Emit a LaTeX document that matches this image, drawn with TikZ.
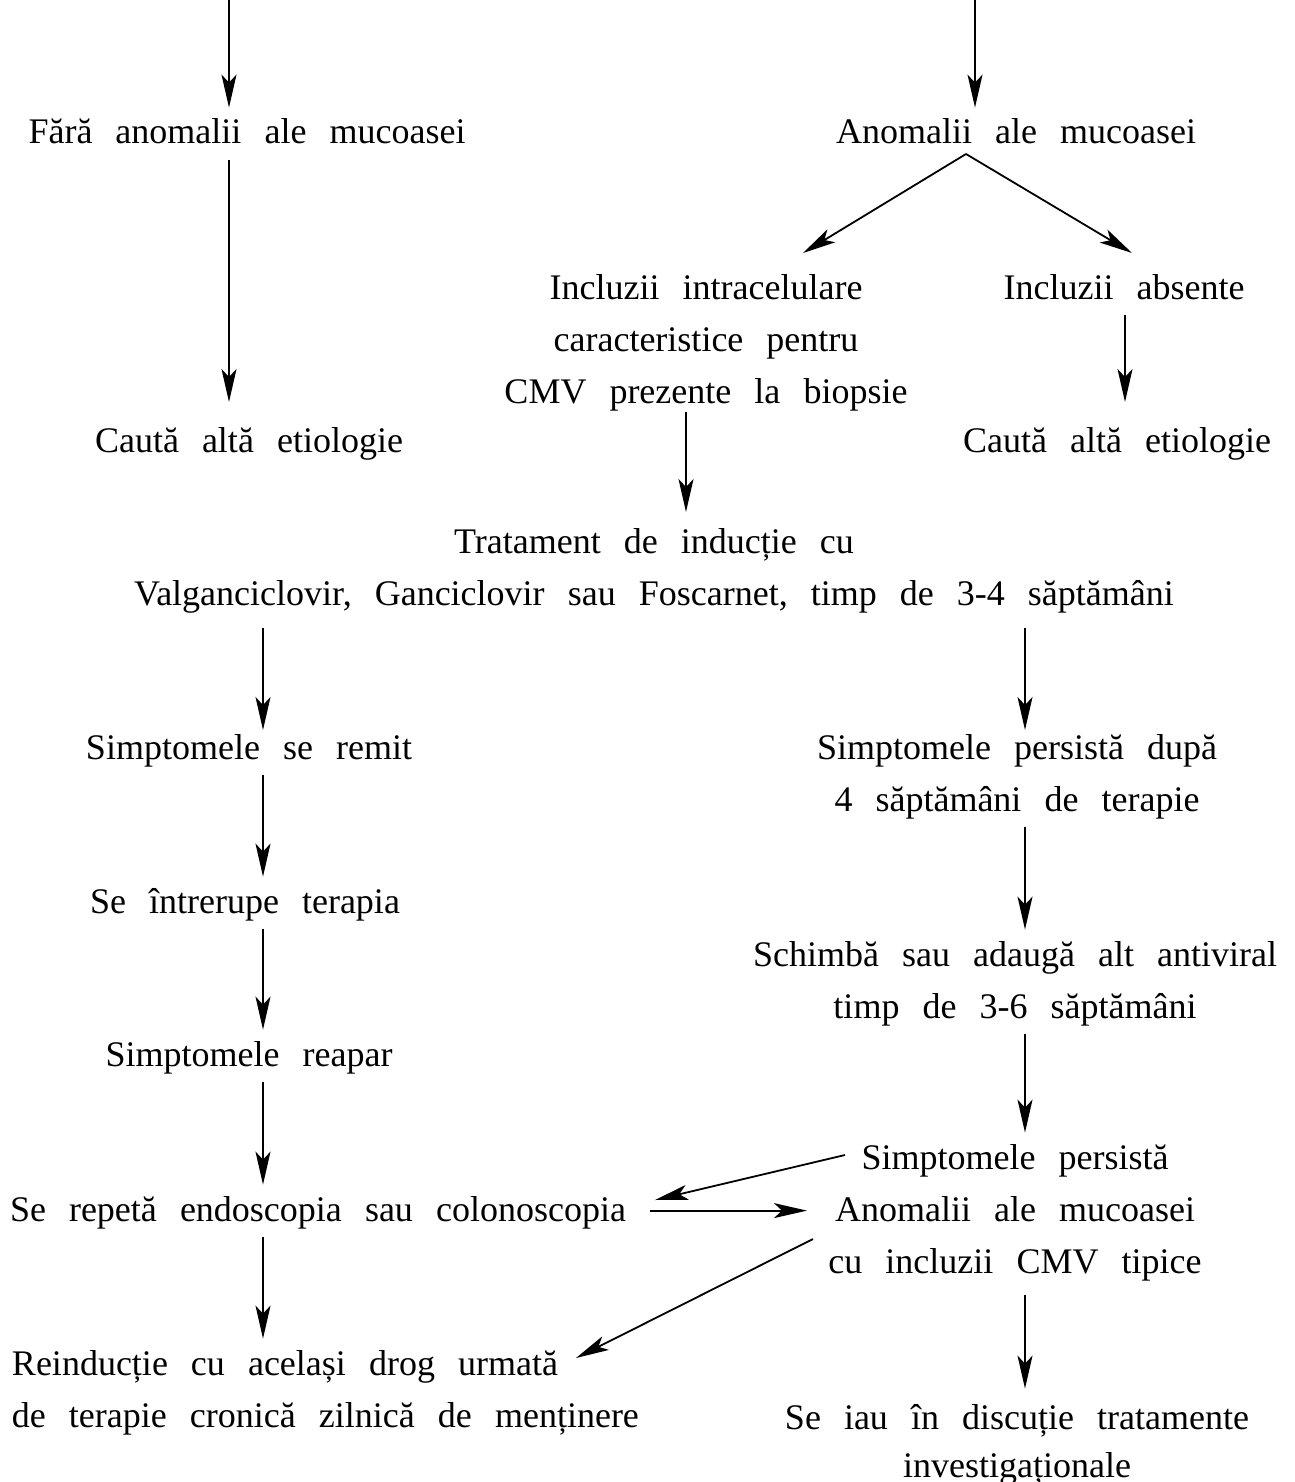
\documentclass[tikz,border=0pt]{standalone}
\usepackage{fontspec}
\setmainfont{Liberation Serif}
\usetikzlibrary{arrows.meta}
% text block: first baseline is the node's base, rows 52pt apart (strut driven)
\newcommand\blk[2]{\spaceskip=0.64em\relax\begin{tabular}[t]{@{}#1@{}}#2\end{tabular}}
\begin{document}
\begin{tikzpicture}[x=1pt,y=-1pt,
  txt/.style={inner sep=0pt, outer sep=0pt, anchor=base,
    font=\fontsize{36}{52}\selectfont},
  arr/.style={line width=1.8pt, -{Stealth[length=33pt,width=15pt,inset=8pt]}}]
\useasboundingbox (0,0) rectangle (1294,1482);

% columns used by the vertical connectors
\coordinate (cA) at (229,0);
\coordinate (cB) at (975,0);
\coordinate (cC) at (1125,0);
\coordinate (cD) at (686,0);
\coordinate (cL) at (263,0);
\coordinate (cR) at (1025,0);

% text blocks
\node[txt] (fara)   at (247,144)  {\blk{c}{Fără anomalii ale mucoasei}};
\node[txt] (anom)   at (1016,144) {\blk{c}{Anomalii ale mucoasei}};
\node[txt] (incl)   at (706,299)  {\blk{c}{Incluzii intracelulare\\caracteristice pentru\\CMV prezente la biopsie}};
\node[txt] (abs)    at (1124,299) {\blk{c}{Incluzii absente}};
\node[txt] (caut1)  at (249,452)  {\blk{c}{Caută altă etiologie}};
\node[txt] (caut2)  at (1117,452) {\blk{c}{Caută altă etiologie}};
\node[txt] (trat)   at (654,553)  {\blk{c}{Tratament de inducție cu\\Valganciclovir, Ganciclovir sau Foscarnet, timp de 3-4 săptămâni}};
\node[txt] (remit)  at (249,759)  {\blk{c}{Simptomele se remit}};
\node[txt] (pers4)  at (1017,759) {\blk{c}{Simptomele persistă după\\4 săptămâni de terapie}};
\node[txt] (intr)   at (245,913)  {\blk{c}{Se întrerupe terapia}};
\node[txt] (schimb) at (1015,966) {\blk{c}{Schimbă sau adaugă alt antiviral\\timp de 3-6 săptămâni}};
\node[txt] (reapar) at (249,1066) {\blk{c}{Simptomele reapar}};
\node[txt] (pers)   at (1015,1169) {\blk{c}{Simptomele persistă\\Anomalii ale mucoasei\\cu incluzii CMV tipice}};
\node[txt] (repeta) at (318,1221) {\blk{c}{Se repetă endoscopia sau colonoscopia}};
\node[txt, anchor=base west] (reind) at (12,1375) {\blk{l}{Reinducție cu același drog urmată\\de terapie cronică zilnică de menținere}};
\node[txt] (iau)    at (1017,1429) {\blk{c}{Se iau în discuție tratamente\\[-4pt]investigaționale}};

% incoming connectors from above the frame
\coordinate (topA) at (229,0);
\coordinate (topB) at (975,0);
\draw[arr] (topA) -- (fara.north -| topA);
\draw[arr] (topB) -- (anom.north -| topB);

% left branch
\draw[arr, shorten >=13.6pt] (fara.south -| cA) -- (caut1.north -| cA);

% right branch split
\draw[arr] ([xshift=-50pt,yshift=5.6pt]anom.south) -- ([xshift=97pt,yshift=9.6pt]incl.north);
\draw[arr] ([xshift=-50pt,yshift=5.6pt]anom.south) -- ([xshift=8pt,yshift=9.6pt]abs.north);
\draw[arr, shorten >=13.6pt] (abs.south -| cC) -- (caut2.north -| cC);
\draw[arr, shorten <=-6.6pt, shorten >=4.6pt] (incl.south -| cD) -- (trat.north -| cD);

% after induction therapy
\draw[arr, shorten <=7.4pt, shorten >=-7.4pt] (trat.south -| cL) -- (remit.north -| cL);
\draw[arr, shorten <=7.4pt, shorten >=-7.4pt] (trat.south -| cR) -- (pers4.north -| cR);
\draw[arr] (remit.south -| cL) -- (intr.north -| cL);
\draw[arr] (pers4.south -| cR) -- (schimb.north -| cR);
\draw[arr] (intr.south -| cL) -- (reapar.north -| cL);
\draw[arr] (schimb.south -| cR) -- (pers.north -| cR);
\draw[arr] (reapar.south -| cL) -- (repeta.north -| cL);
\draw[arr] (repeta.south -| cL) -- (reind.north -| cL);
\draw[arr, shorten <=6.4pt, shorten >=4pt] (pers.south -| cR) -- (iau.north -| cR);

% cross links
\draw[arr] ([xshift=16.5pt,yshift=55.6pt]pers.west) -- ([xshift=29pt,yshift=10.6pt]repeta.east);
\draw[arr] ([xshift=24pt]repeta.east) -- ([xshift=-21.5pt]pers.west);
\draw[arr] ([xshift=-15.5pt,yshift=-28.4pt]pers.west) -- ([xshift=564pt,yshift=-19.4pt]reind.north west);
\end{tikzpicture}
\end{document}
